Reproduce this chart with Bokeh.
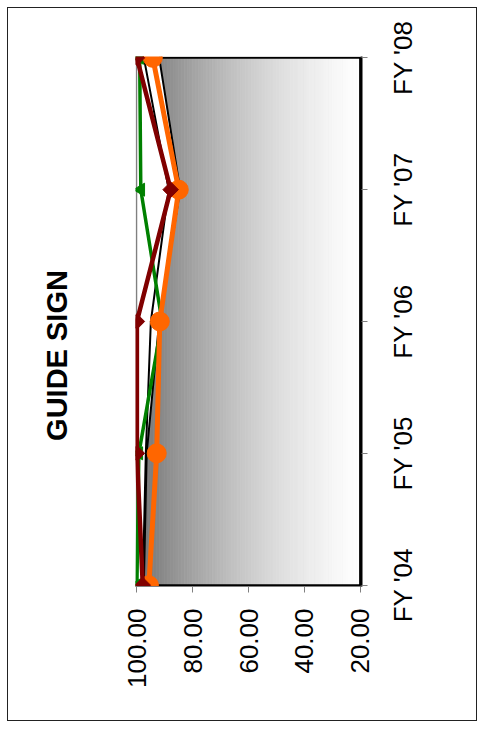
import numpy as np
from bokeh.plotting import figure
from bokeh.layouts import row, column
from bokeh.models import Range1d, FixedTicker
from bokeh.core.properties import value
from bokeh.embed import file_html
from bokeh.resources import INLINE

title_text = "GUIDE SIGN"
categories = ["FY '04", "FY '05", "FY '06", "FY '07", "FY '08"]
value_ticks = [100, 80, 60, 40, 20]
value_labels = ["100.00", "80.00", "60.00", "40.00", "20.00"]

area_vals = [97.5, 96.5, 92.0, 84.5, 92.0]
black_vals = [97.9, 96.8, 95.0, 88.6, 97.5]
green_vals = [100.0, 99.3, 91.0, 98.6, 99.0]
orange_vals = [95.7, 92.9, 91.8, 85.0, 94.3]
maroon_vals = [97.9, 100.0, 100.0, 87.9, 100.0]

ypos = list(range(len(categories)))
vmax, vmin = value_ticks[0], value_ticks[-1]
FONT = "Liberation Sans"

H = 712
TOP, BOT = 48, 134
y0, y1 = -0.01, len(categories) - 1 + 0.01
scale = (H - TOP - BOT) / (y1 - y0)

# ---- main chart ----
p = figure(width=266, height=H,
           x_range=Range1d(vmax + 0.5, vmin - 0.5),
           y_range=Range1d(y0, y1),
           x_axis_location="below", y_axis_location="right",
           output_backend="svg", toolbar_location=None,
           min_border_left=25, min_border_right=15,
           min_border_top=TOP, min_border_bottom=BOT)
p.background_fill_color = "white"
p.border_fill_color = "white"
p.outline_line_color = None
p.xgrid.visible = False
p.ygrid.visible = False

edges = np.linspace(vmax, vmin, 81)
t = (vmax - (edges[:-1] + edges[1:]) / 2) / (vmax - vmin)
g = np.clip(113 + 220 * t - 78 * t ** 2, 0, 255).astype(int)
cols = ["#%02x%02x%02x" % (v, v, v) for v in g]
p.quad(left=edges[:-1], right=edges[1:], bottom=ypos[0], top=ypos[-1],
       fill_color=cols, line_color=cols, line_width=0.8)

p.harea(x1=vmax + 0.5, x2=area_vals, y=ypos, fill_color="white")
p.vspan(x=[vmax], line_color="#808080", line_width=1.5)

p.patch(x=area_vals + [vmin, vmin], y=ypos + [ypos[-1], ypos[0]],
        fill_color=None, line_color="black", line_width=2)

p.line(black_vals, ypos, line_color="black", line_width=2)

p.line(green_vals, ypos, line_color="#008000", line_width=3.5)
p.scatter(green_vals, ypos, marker="triangle", size=13, angle=np.pi / 2,
          fill_color="#008000", line_color="#008000")

p.line(orange_vals, ypos, line_color="#ff6600", line_width=5)
p.scatter(orange_vals, ypos, marker="circle", size=19,
          fill_color="#ff6600", line_color="#ff6600")

p.line(maroon_vals, ypos, line_color="#800000", line_width=4.5)
p.scatter(maroon_vals, ypos, marker="square", size=11, angle=np.pi / 4,
          fill_color="#800000", line_color="#800000")

xa = p.xaxis[0]
xa.ticker = FixedTicker(ticks=value_ticks)
xa.major_label_overrides = {v: l for v, l in zip(value_ticks, value_labels)}
xa.major_label_orientation = np.pi / 2
xa.major_label_text_font = FONT
xa.major_label_text_font_size = "26px"
xa.major_label_text_color = "black"
xa.major_label_standoff = 16
xa.axis_line_color = "#808080"
xa.major_tick_line_color = "#808080"
xa.major_tick_out = 6
xa.major_tick_in = 0
xa.minor_tick_line_color = None

ya = p.yaxis[0]
ya.ticker = FixedTicker(ticks=ypos)
ya.major_label_text_font_size = "0px"
ya.major_label_overrides = {i: "" for i in ypos}
ya.axis_line_color = "black"
ya.axis_line_width = 2
ya.major_tick_line_color = "#808080"
ya.major_tick_out = 6
ya.major_tick_in = 0
ya.minor_tick_line_color = None

# side panels: full-height frames mapped to the same vertical positions
side_range = Range1d(y0 - BOT / scale, y1 + TOP / scale)


def side_fig(w):
    f = figure(width=w, height=H, x_range=Range1d(0, 1), y_range=side_range,
               x_axis_location=None, y_axis_location=None, title=None,
               output_backend="svg", toolbar_location=None,
               min_border_left=0, min_border_right=0,
               min_border_top=0, min_border_bottom=0)
    f.background_fill_color = "white"
    f.border_fill_color = "white"
    f.outline_line_color = None
    f.grid.visible = False
    return f


left = side_fig(102)
left.text(x=[0.48], y=[1.742], text=[title_text], angle=np.pi / 2,
          text_font=value(FONT), text_font_size="29px", text_font_style="bold",
          text_color="black", text_align="center", text_baseline="middle")

right = side_fig(100)
right.text(x=[0.26] * len(categories), y=ypos, text=categories, angle=np.pi / 2,
           text_font=value(FONT), text_font_size="26px", text_color="black",
           text_align="center", text_baseline="middle")

layout = row(column(left), column(p), column(right), spacing=0)
layout.margin = (8, 8, 8, 8)
layout.styles = {"outline": "1.5px solid #222"}

open("out.html", "w").write(file_html(layout, INLINE))
